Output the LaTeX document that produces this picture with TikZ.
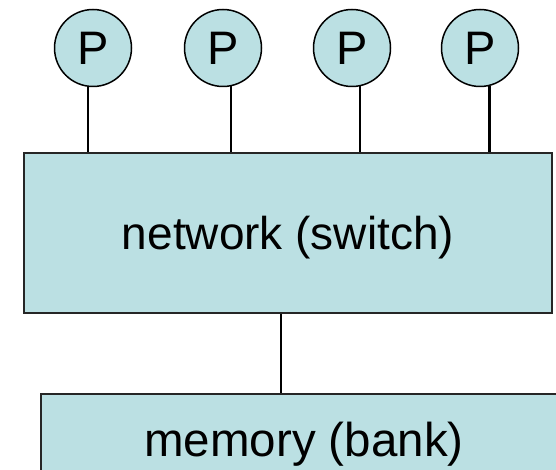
\documentclass[tikz,border=0pt]{standalone}
\usepackage{fontspec}
\setmainfont{Liberation Sans}
\definecolor{cellfill}{RGB}{187,224,227}
\tikzset{
  proc/.style={circle, draw=black, fill=cellfill, line width=1.5pt, minimum size=77pt, inner sep=0pt, font=\fontsize{47}{50}\selectfont},
  unit/.style={rectangle, draw=black!85, fill=cellfill, line width=2pt, inner sep=0pt, text depth=0pt, font=\fontsize{46}{50}\selectfont},
  wire/.style={line width=2.5pt}
}
\begin{document}
\begin{tikzpicture}[x=1pt, y=-1pt]
		\useasboundingbox (0,0) rectangle (556,470);
		\clip (0,0) rectangle (556,470);
		%processors
		\foreach \x [count=\i] in {93, 223, 352, 480}{
			\node[proc] (p\i) at (\x, 48){P};
		}
		
		%switch and memory
		\node[unit, minimum width=528pt, minimum height=160pt] (network) at (288, 233){network (switch)};
		\node[unit, minimum width=526pt, minimum height=90pt, anchor=north west, font=\fontsize{47.5}{50}\selectfont] (memory) at (40, 393){memory (bank)};
		\coordinate (bus) at (281, 350);
		
		\foreach \i/\a in {1/-97, 2/-78, 3/-78, 4/-76}{
			\draw[wire] (p\i.\a) -- (p\i.\a |- network.north);
		}
		\draw[wire] (network.south -| bus) -- (memory.north -| bus);
		\end{tikzpicture}
\end{document}
